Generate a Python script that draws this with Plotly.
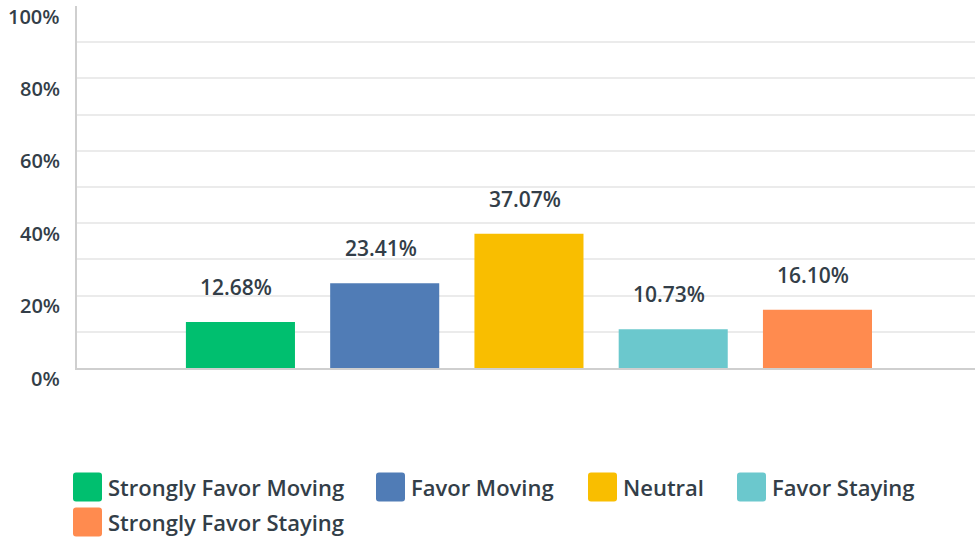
import plotly.graph_objects as go

categories = ["Strongly Favor Moving", "Favor Moving", "Neutral", "Favor Staying", "Strongly Favor Staying"]
values = [12.68, 23.41, 37.07, 10.73, 16.10]
colors = ["#00bf6f", "#507cb6", "#f9be00", "#6bc8cd", "#ff8b4f"]
y_ticks = [0, 20, 40, 60, 80, 100]
y_tick_labels = ["0%", "20%", "40%", "60%", "80%", "100%"]

W, H = 975, 538
ML, MR, MT, MB = 77, 0, 6, 170
PW, PH = W - ML - MR, H - MT - MB

FONT = "Open Sans"
TXT = "#333e48"


def px_x(x):
    return (x - ML) / PW


def px_y(y):
    return (H - MB - y) / PH


xs = list(range(len(categories)))

fig = go.Figure()
fig.add_trace(go.Bar(
    x=xs, y=values, marker=dict(color=colors, line=dict(width=0)),
    width=0.756, showlegend=False, hoverinfo="skip",
))

annotations = []
# value labels
for xi, v in zip(xs, values):
    annotations.append(dict(
        x=xi, y=v, xref="x", yref="y", text=f"{v:.2f}%", showarrow=False,
        yanchor="middle", yshift=35, xshift=-4,
        font=dict(family=FONT, size=21, color=TXT, weight=600),
    ))
# y tick labels (sitting slightly below their gridlines, as in the reference)
for t, lab in zip(y_ticks, y_tick_labels):
    annotations.append(dict(
        x=px_x(62), y=t, xref="paper", yref="y", text=lab, showarrow=False,
        xanchor="right", yanchor="middle", yshift=-10,
        font=dict(family=FONT, size=20, color=TXT, weight=600),
    ))

# custom legend with large rounded swatches
legend_pos = [(73, 487), (376, 487), (588, 487), (737, 487), (73, 522)]
shapes = []
for (lx, ly), name, c in zip(legend_pos, categories, colors):
    x0, x1 = px_x(lx), px_x(lx + 29)
    y0, y1 = px_y(ly + 14.5), px_y(ly - 14.5)
    rx, ry = 3 / PW, 3 / PH
    path = (f"M {x0+rx},{y0} L {x1-rx},{y0} Q {x1},{y0} {x1},{y0+ry} "
            f"L {x1},{y1-ry} Q {x1},{y1} {x1-rx},{y1} L {x0+rx},{y1} "
            f"Q {x0},{y1} {x0},{y1-ry} L {x0},{y0+ry} Q {x0},{y0} {x0+rx},{y0} Z")
    shapes.append(dict(type="path", path=path, xref="paper", yref="paper",
                       fillcolor=c, line=dict(width=0)))
    annotations.append(dict(
        x=px_x(lx + 33), y=px_y(ly), xref="paper", yref="paper", text=name,
        showarrow=False, xanchor="left", yanchor="middle",
        font=dict(family=FONT, size=22, color=TXT, weight=600),
    ))

fig.update_layout(
    width=W, height=H,
    margin=dict(l=ML, r=MR, t=MT, b=MB, pad=0),
    paper_bgcolor="white", plot_bgcolor="white",
    showlegend=False,
    xaxis=dict(range=[-1.133, 5.092], showticklabels=False, showgrid=False,
               zeroline=False, showline=True, linecolor="#cfcfcf", linewidth=2,
               fixedrange=True),
    yaxis=dict(range=[0, 100], dtick=10, showticklabels=False, showgrid=True,
               gridcolor="#ebebeb", gridwidth=2, zeroline=False,
               showline=True, linecolor="#cfcfcf", linewidth=2, fixedrange=True),
    annotations=annotations, shapes=shapes,
)

fig.write_html("out.html", config={"displayModeBar": False},
               post_script="document.body.style.margin='0';")
